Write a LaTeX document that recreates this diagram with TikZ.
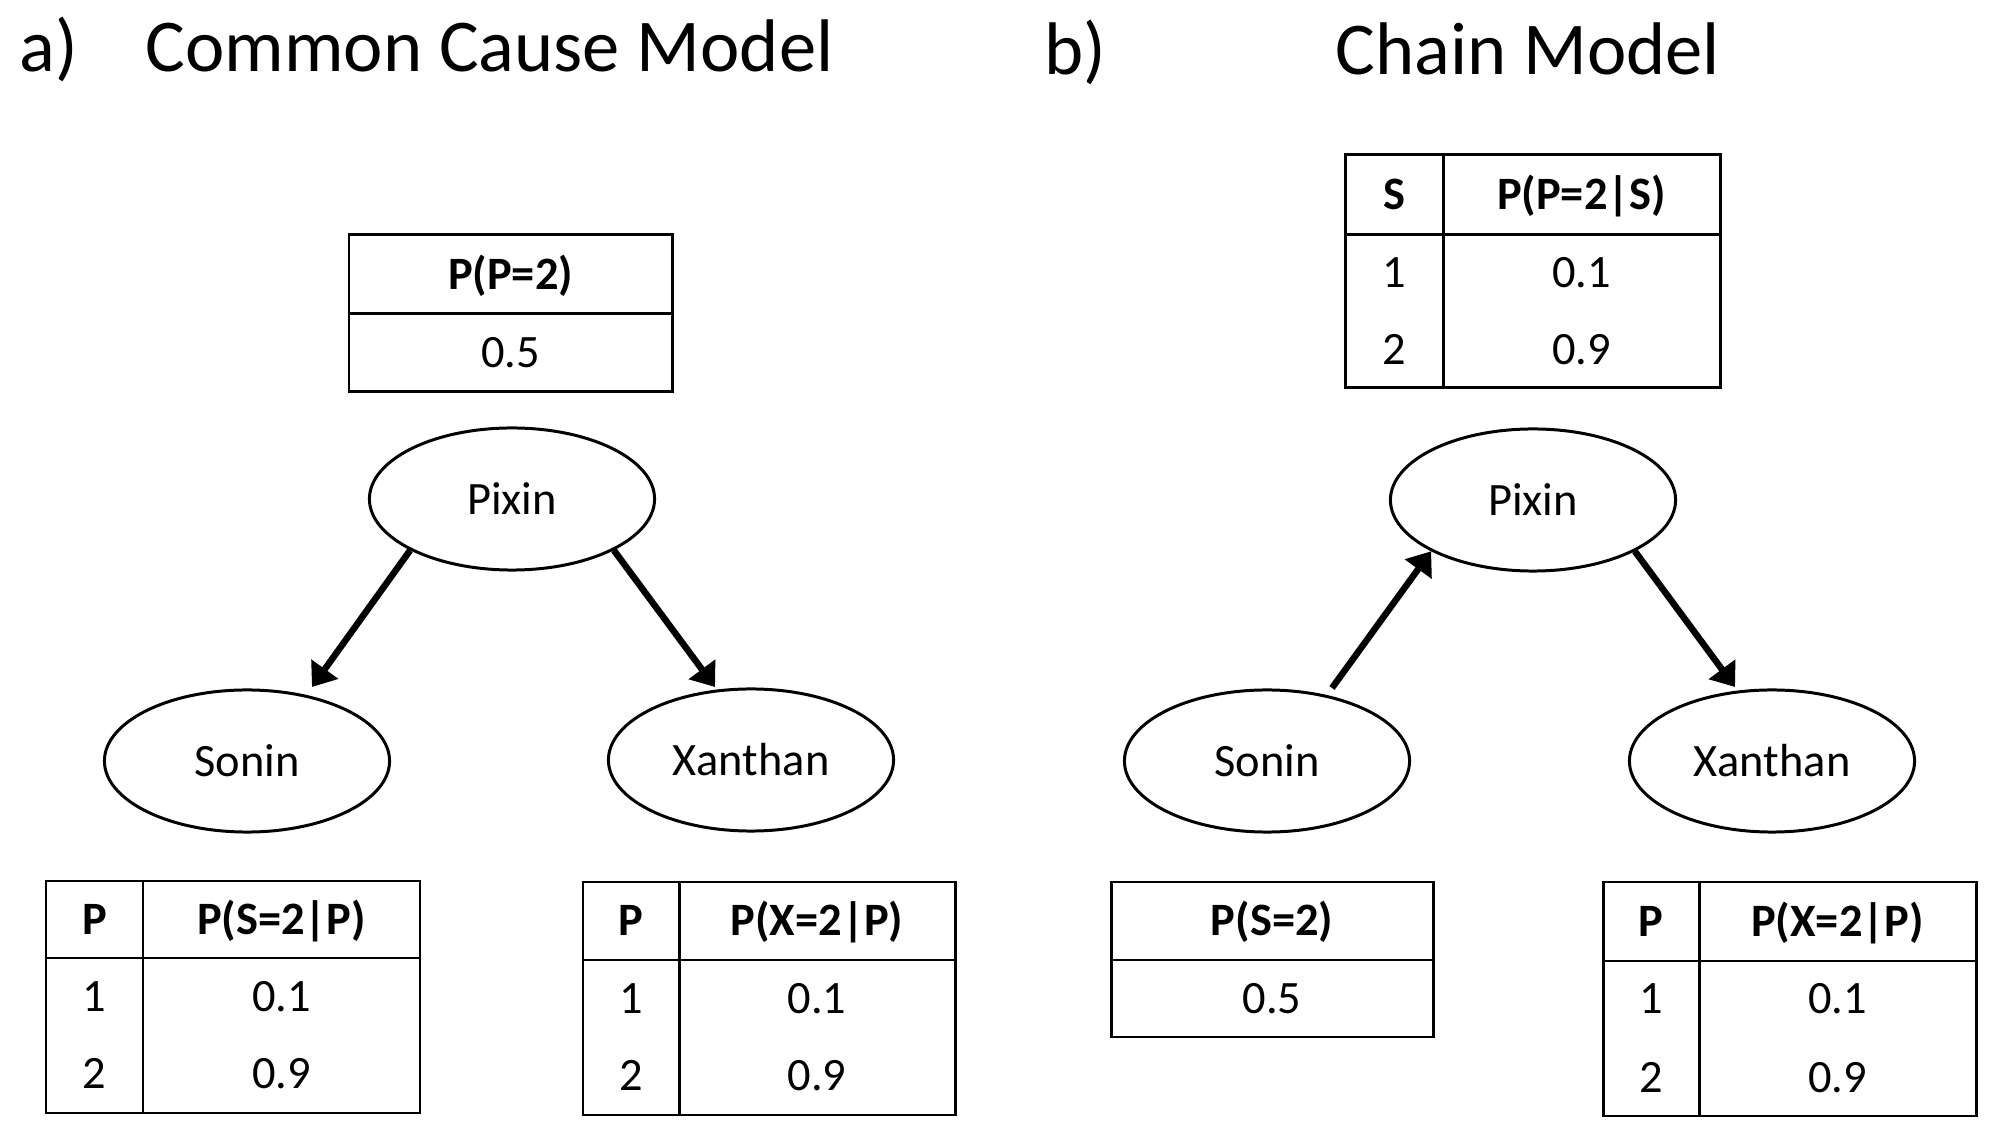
\documentclass[tikz,border=0pt]{standalone}
\usepackage{fontspec}
\setmainfont{Carlito}
\usetikzlibrary{shapes.geometric,arrows.meta}
\begin{document}
\begin{tikzpicture}[x=0.01cm,y=-0.01cm,
  title/.style={anchor=base west, inner sep=0, font=\fontsize{21.2pt}{25pt}\selectfont},
  cell/.style={anchor=base, inner sep=0, font=\fontsize{13.2pt}{16pt}\selectfont},
  head/.style={anchor=base, inner sep=0, font=\fontsize{13.2pt}{16pt}\selectfont\bfseries},
  grid/.style={line width=0.85pt},
  var/.style={ellipse, draw, line width=0.85pt, minimum width=2.85cm, minimum height=1.42cm, inner sep=0, font=\fontsize{13.2pt}{16pt}\selectfont},
  arr/.style={line width=1.85pt, -{Triangle[length=0.22cm, width=0.32cm]}}
]
\useasboundingbox (0,0) rectangle (1996,1134);

% titles
\node[title] (ta) at (19,72) {a)};
\node[title] (tat) at (145,72) {Common Cause Model};
\node[title] (tb) at (1044,75) {b)};
\node[title] (tbt) at (1335,75) {Chain Model};

% ---------- a) common cause ----------
\node[var] (Pa) at (512,499) {Pixin};
\node[var] (Sa) at (247,761) {Sonin};
\node[var] (Xa) at (751,760) {Xanthan};
\coordinate (a1) at (312,687);
\coordinate (a2) at (715,687);
\draw[arr] (Pa.south west) -- (a1);
\draw[arr] (Pa.south east) -- (a2);

% table P(P=2)
\draw[grid] (349,235) rectangle (672,392);
\draw[grid] (349,314) -- (672,314);
\node[head] (tA0h) at (510.5,289.5) {P(P=2)};
\node[cell] (tA0v) at (510.5,368) {0.5};

% table P(S=2|P)
\draw[grid] (46,881) rectangle (420,1113);
\draw[grid] (46,958) -- (420,958);
\draw[grid] (143,881) -- (143,1113);
\node[head] (tA1h1) at (94.5,934.5) {P};
\node[head] (tA1h2) at (281.5,934.5) {P(S=2|P)};
\node[cell] (tA1a) at (94.5,1012) {1};
\node[cell] (tA1b) at (281.5,1012) {0.1};
\node[cell] (tA1c) at (94.5,1089) {2};
\node[cell] (tA1d) at (281.5,1089) {0.9};

% table P(X=2|P)
\draw[grid] (583,882) rectangle (955,1115);
\draw[grid] (583,960) -- (955,960);
\draw[grid] (679,882) -- (679,1115);
\node[head] (tA2h1) at (631,936) {P};
\node[head] (tA2h2) at (817,936) {P(X=2|P)};
\node[cell] (tA2a) at (631,1014) {1};
\node[cell] (tA2b) at (817,1014) {0.1};
\node[cell] (tA2c) at (631,1091) {2};
\node[cell] (tA2d) at (817,1091) {0.9};

% ---------- b) chain ----------
\node[var] (Pb) at (1533,500) {Pixin};
\node[var] (Sb) at (1267,761) {Sonin};
\node[var] (Xb) at (1772,761) {Xanthan};
\coordinate (b1) at (1332,688);
\coordinate (b2) at (1735,687);
\draw[arr] (b1) -- (Pb.south west);
\draw[arr] (Pb.south east) -- (b2);

% table P(P=2|S)
\draw[grid] (1345,155) rectangle (1720,388);
\draw[grid] (1345,235) -- (1720,235);
\draw[grid] (1443,155) -- (1443,388);
\node[head] (tB0h1) at (1394,210) {S};
\node[head] (tB0h2) at (1581.5,210) {P(P=2|S)};
\node[cell] (tB0a) at (1394,288) {1};
\node[cell] (tB0b) at (1581.5,288) {0.1};
\node[cell] (tB0c) at (1394,365) {2};
\node[cell] (tB0d) at (1581.5,365) {0.9};

% table P(S=2)
\draw[grid] (1111,882) rectangle (1433,1037);
\draw[grid] (1111,960) -- (1433,960);
\node[head] (tB1h) at (1272,936) {P(S=2)};
\node[cell] (tB1v) at (1272,1014) {0.5};

% table P(X=2|P)
\draw[grid] (1603,882) rectangle (1976,1116);
\draw[grid] (1603,961) -- (1976,961);
\draw[grid] (1699,882) -- (1699,1116);
\node[head] (tB2h1) at (1651,936.5) {P};
\node[head] (tB2h2) at (1837.5,936.5) {P(X=2|P)};
\node[cell] (tB2a) at (1651,1014) {1};
\node[cell] (tB2b) at (1837.5,1014) {0.1};
\node[cell] (tB2c) at (1651,1093) {2};
\node[cell] (tB2d) at (1837.5,1093) {0.9};
\end{tikzpicture}
\end{document}
